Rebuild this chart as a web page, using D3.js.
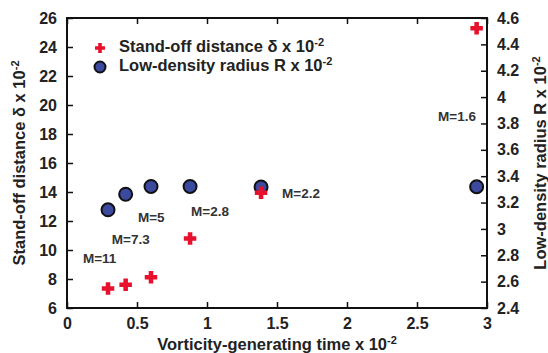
<!DOCTYPE html>
<html><head><meta charset="utf-8">
<script src="https://cdn.jsdelivr.net/npm/d3@7"></script>
<style>
body{margin:0;background:#fff;}
svg{display:block;font-family:"Liberation Sans",Arial,Helvetica,sans-serif;font-weight:bold;}
</style></head>
<body>
<svg id="chart" width="548" height="353"></svg>
<script>
// data
const timeX = [0.293, 0.419, 0.60, 0.879, 1.386, 2.926];
const standoff = [7.35, 7.6, 8.12, 10.8, 13.95, 25.3];
const radius = [3.145, 3.263, 3.322, 3.322, 3.318, 3.320];
const machLabels = ["M=11", "M=7.3", "M=5", "M=2.8", "M=2.2", "M=1.6"];
const labelPos = [[0.114, 9.07], [0.32, 10.38], [0.507, 11.93], [0.886, 12.35], [1.536, 13.6], [2.65, 18.9]];
const xTicks = [0, 0.5, 1, 1.5, 2, 2.5, 3];
const yLeftTicks = [6, 8, 10, 12, 14, 16, 18, 20, 22, 24, 26];
const yRightTicks = [2.4, 2.6, 2.8, 3, 3.2, 3.4, 3.6, 3.8, 4, 4.2, 4.4, 4.6];

const svg = d3.select("#chart");
const L = 67, R = 487, T = 18, B = 308;
const x = d3.scaleLinear().domain([0, 3]).range([L, R]);
const yL = d3.scaleLinear().domain([6, 26]).range([B, T]);
const yR = d3.scaleLinear().domain([2.4, 4.6]).range([B, T]);
const tickLen = 6;
const red = "#e8112d", blue = "#3b4a9e", txt = "#222";
const FS = 16.5;

// axes
const gB = svg.append("g").attr("transform", `translate(0,${B})`)
  .call(d3.axisBottom(x).tickValues(xTicks).tickFormat(d3.format("~g")).tickSizeInner(-tickLen).tickSizeOuter(0).tickPadding(10));
const gT = svg.append("g").attr("transform", `translate(0,${T})`)
  .call(d3.axisTop(x).tickValues(xTicks).tickFormat("").tickSizeInner(-tickLen).tickSizeOuter(0));
const gL = svg.append("g").attr("transform", `translate(${L},0)`)
  .call(d3.axisLeft(yL).tickValues(yLeftTicks).tickFormat(d3.format("~g")).tickSizeInner(-tickLen).tickSizeOuter(0).tickPadding(10));
const gR = svg.append("g").attr("transform", `translate(${R},0)`)
  .call(d3.axisRight(yR).tickValues(yRightTicks).tickFormat(d3.format("~g")).tickSizeInner(-tickLen).tickSizeOuter(0).tickPadding(10));
[gB, gT, gL, gR].forEach(g => {
  g.select(".domain").remove();
  g.selectAll(".tick line").attr("stroke", "#111").attr("stroke-width", 1.5);
  g.selectAll("text").attr("font-size", 16).attr("font-weight", "bold").attr("fill", txt)
    .attr("font-family", "'Liberation Sans',Arial,sans-serif");
});
gB.selectAll("text").attr("dy", "0.71em");

// frame
svg.append("rect").attr("x", L).attr("y", T).attr("width", R - L).attr("height", B - T)
  .attr("fill", "none").attr("stroke", "#111").attr("stroke-width", 2);

const sup = '<tspan baseline-shift="super" font-size="11">-2</tspan>';
// axis titles
svg.append("text").attr("transform", `translate(25,${(T + B) / 2}) rotate(-90)`)
  .attr("text-anchor", "middle").attr("font-size", FS).attr("fill", txt)
  .html('Stand-off distance δ x 10' + sup);
svg.append("text").attr("transform", `translate(546,${(T + B) / 2}) rotate(-90)`)
  .attr("text-anchor", "middle").attr("font-size", FS).attr("fill", txt)
  .html('Low-density radius R x 10' + sup);
svg.append("text").attr("x", (L + R) / 2).attr("y", 350)
  .attr("text-anchor", "middle").attr("font-size", FS).attr("fill", txt)
  .html('Vorticity-generating time x 10' + sup);

// cross path
function crossPath(s) {
  const a = s / 2, b = s / 5.5;
  return `M${-b},${-a}H${b}V${-b}H${a}V${b}H${b}V${a}H${-b}V${b}H${-a}V${-b}H${-b}Z`;
}

// circles (low-density radius)
svg.append("g").selectAll("circle").data(timeX).join("circle")
  .attr("cx", d => x(d)).attr("cy", (d, i) => yR(radius[i])).attr("r", 6.5)
  .attr("fill", blue).attr("stroke", "#111").attr("stroke-width", 2);

// crosses (stand-off distance)
svg.append("g").selectAll("path").data(timeX).join("path")
  .attr("transform", (d, i) => `translate(${x(d)},${yL(standoff[i])})`)
  .attr("d", crossPath(12.5)).attr("fill", red);

// Mach labels
svg.append("g").selectAll("text").data(machLabels).join("text")
  .attr("x", (d, i) => x(labelPos[i][0])).attr("y", (d, i) => yL(labelPos[i][1]))
  .attr("font-size", 13.5).attr("fill", "#333").text(d => d);

// legend
svg.append("path").attr("transform", "translate(100,48)").attr("d", crossPath(10)).attr("fill", red);
svg.append("circle").attr("cx", 100).attr("cy", 67).attr("r", 5.5).attr("fill", blue).attr("stroke", "#111").attr("stroke-width", 2);
svg.append("text").attr("x", 119).attr("y", 52).attr("font-size", FS).attr("fill", txt)
  .html('Stand-off distance δ x 10' + sup);
svg.append("text").attr("x", 119).attr("y", 71).attr("font-size", FS).attr("fill", txt)
  .html('Low-density radius R x 10' + sup);
</script>
</body></html>
